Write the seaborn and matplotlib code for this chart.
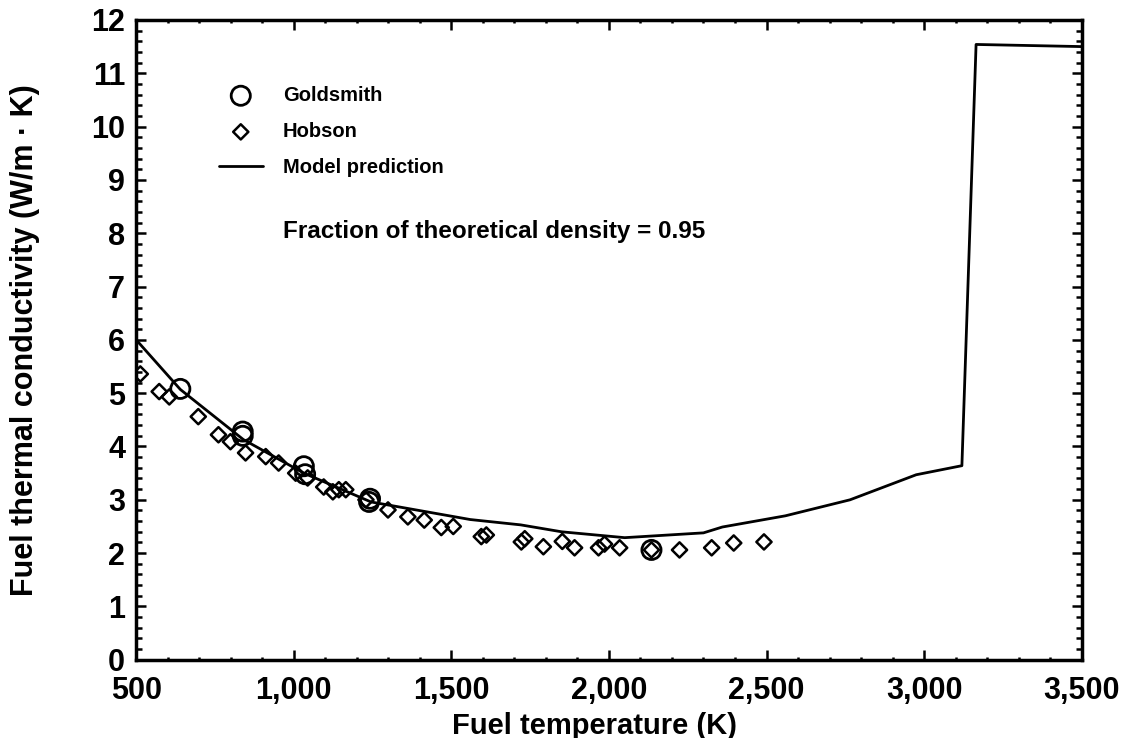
import numpy as np
import pandas as pd
import matplotlib
matplotlib.use("Agg")
import matplotlib.pyplot as plt
from matplotlib.ticker import MultipleLocator, FuncFormatter
import seaborn as sns

# Goldsmith data points
gold_temp = [640, 838, 838, 1032, 1036, 1239, 1242, 2135]
gold_k = [5.08, 4.28, 4.20, 3.63, 3.48, 2.96, 3.02, 2.06]

# Hobson data points
hob_temp = [513, 573, 605, 697, 761, 799, 847, 911, 952, 1006, 1044, 1095,
            1124, 1143, 1165, 1229, 1299, 1362, 1414, 1468, 1506, 1595, 1611,
            1722, 1733, 1792, 1852, 1891, 1967, 1986, 2034, 2135, 2224, 2326,
            2396, 2492]
hob_k = [5.36, 5.03, 4.93, 4.56, 4.22, 4.09, 3.88, 3.81, 3.69, 3.50, 3.41, 3.24,
         3.15, 3.19, 3.19, 3.00, 2.81, 2.68, 2.62, 2.48, 2.50, 2.31, 2.34,
         2.21, 2.27, 2.12, 2.22, 2.10, 2.10, 2.17, 2.10, 2.06, 2.06, 2.10,
         2.19, 2.21]

# model prediction
model_temp = [500, 640, 840, 1032, 1245, 1560, 1720, 1850, 2050, 2300, 2360,
              2560, 2765, 2975, 3120, 3165, 3500]
model_k = [6.0, 5.07, 4.13, 3.50, 2.96, 2.63, 2.53, 2.40, 2.29, 2.38, 2.49,
           2.70, 3.00, 3.47, 3.64, 11.54, 11.50]

sns.set_style("ticks", {"text.color": "black", "axes.labelcolor": "black",
                        "xtick.color": "black", "ytick.color": "black",
                        "axes.edgecolor": "black"})
plt.rcParams['font.family'] = ['Liberation Sans', 'DejaVu Sans']
plt.rcParams['font.weight'] = 'bold'

fig = plt.figure(figsize=(11.35, 7.38), dpi=100)
ax = fig.add_axes([0.12, 0.106, 0.833, 0.867])

model_df = pd.DataFrame({"T": model_temp, "k": model_k})
sns.lineplot(data=model_df, x="T", y="k", color="black", linewidth=2,
             sort=False, ax=ax, label="Model prediction")

hob_df = pd.DataFrame({"T": hob_temp, "k": hob_k})
sns.scatterplot(data=hob_df, x="T", y="k", marker="D", s=60,
                facecolor="none", edgecolor="black", linewidth=1.8, ax=ax,
                label="Hobson")

gold_df = pd.DataFrame({"T": gold_temp, "k": gold_k})
sns.scatterplot(data=gold_df, x="T", y="k", marker="o", s=190,
                facecolor="none", edgecolor="black", linewidth=2, ax=ax,
                label="Goldsmith")

ax.set_xlim(500, 3500)
ax.set_ylim(0, 12)
ax.xaxis.set_major_locator(MultipleLocator(500))
ax.xaxis.set_minor_locator(MultipleLocator(100))
ax.yaxis.set_major_locator(MultipleLocator(1))
ax.yaxis.set_minor_locator(MultipleLocator(0.2))
ax.xaxis.set_major_formatter(FuncFormatter(lambda v, p: f"{int(v):,}"))
ax.tick_params(which="both", direction="in", top=True, right=True,
               labelsize=22, width=1.8, colors="black")
ax.tick_params(axis="x", which="major", pad=12)
ax.tick_params(axis="y", which="major", pad=8)
ax.tick_params(which="major", length=7)
ax.tick_params(which="minor", length=4)
ax.tick_params(axis="x", which="minor", length=2)
for lab in ax.get_xticklabels() + ax.get_yticklabels():
    lab.set_fontweight("bold")
for sp in ax.spines.values():
    sp.set_linewidth(2.5)
    sp.set_color("black")

ax.set_xlabel("Fuel temperature (K)", fontsize=21, fontweight="bold",
              color="black")
ax.xaxis.set_label_coords(0.485, -0.082)
ax.set_ylabel("Fuel thermal conductivity (W/m · K)", fontsize=22,
              fontweight="bold", color="black")
ax.yaxis.set_label_coords(-0.102, 0.5)

handles, labels = ax.get_legend_handles_labels()
order = [labels.index("Goldsmith"), labels.index("Hobson"),
         labels.index("Model prediction")]
leg = ax.legend([handles[i] for i in order], [labels[i] for i in order],
                loc="upper left", bbox_to_anchor=(0.068, 0.925), frameon=False,
                prop={"size": 14.5, "weight": "bold"}, handlelength=2.2,
                labelspacing=0.85, handletextpad=1.0)

ax.text(0.155, 0.67, "Fraction of theoretical density = 0.95",
        transform=ax.transAxes, fontsize=17.5, fontweight="bold",
        ha="left", va="center", color="black")

fig.savefig("out.png", dpi=100)
